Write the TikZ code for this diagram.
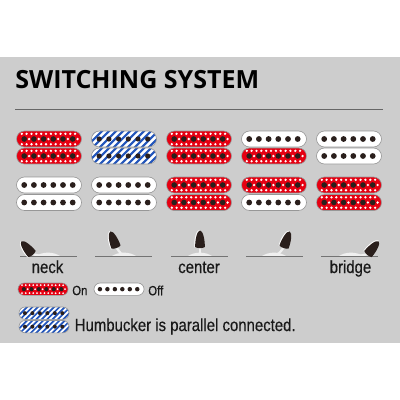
\documentclass[tikz,border=0pt]{standalone}
\usepackage{fontspec}
\setmainfont{Liberation Sans}
\newfontfamily\titlefont{Open Sans}
\newfontfamily\narrowfont[FakeStretch=0.85,FakeBold=0.4]{Liberation Sans}
\definecolor{panelgray}{HTML}{CDCDCD}
\definecolor{rimgray}{HTML}{979797}
\definecolor{pickupred}{HTML}{E60012}
\definecolor{pickupblue}{HTML}{2255BB}
\definecolor{polecolor}{HTML}{2A1F1C}
\newcommand{\pillpath}{(8,0) -- (57,0) arc[start angle=-90,end angle=90,radius=8] -- (8,16) arc[start angle=90,end angle=270,radius=8] -- cycle}
\tikzset{
  pics/whitebar/.style={code={
    \fill[white] \pillpath;
    \draw[rim] \pillpath;
    \foreach \p in {0,...,5} \fill[polecolor] ({7.7+9.7*\p},8) circle (2.9);
  }},
  pics/redbar/.style={code={
    \begin{scope}
      \clip \pillpath;
      \fill[pickupred] (0,0) rectangle (65,16);
      \foreach \p in {0,...,5} {
        \fill[white] ({7.7+9.7*\p-2.4},2.8) circle (1.3);
        \fill[white] ({7.7+9.7*\p+2.4},2.8) circle (1.3);
        \fill[white] ({7.7+9.7*\p+4.85},8) circle (1.3);
        \fill[white] ({7.7+9.7*\p-2.4},13.2) circle (1.3);
        \fill[white] ({7.7+9.7*\p+2.4},13.2) circle (1.3);
      }
    \end{scope}
    \foreach \p in {0,...,5} \fill[polecolor] ({7.7+9.7*\p},8) circle (2.8);
    \draw[rim] \pillpath;
  }},
  pics/bluebar/.style={code={
    \begin{scope}
      \clip \pillpath;
      \fill[white] (0,0) rectangle (65,16);
      \foreach \s in {-3,...,10}
        \fill[pickupblue] ({7*\s},16) -- ({7*\s+3.1},16) -- ({7*\s+3.1+16},0) -- ({7*\s+16},0) -- cycle;
    \end{scope}
    \foreach \p in {0,...,5} \fill[polecolor] ({7.7+9.7*\p},8) circle (2.6);
    \draw[rim] \pillpath;
  }},
  pics/lever/.style={code={
    \fill[white] (-5.4,0.8) .. controls (-6.6,-6) and (-4,-17) .. (-0.5,-17.2) -- (0,-14) -- (-4.5,0) -- cycle;
    \fill[polecolor] (-4.8,0) .. controls (-5,-7) and (-3,-16.5) .. (0,-16.5) .. controls (3,-16.5) and (5,-7) .. (4.8,0) .. controls (3,1.5) and (-3,1.5) .. (-4.8,0) -- cycle;
  }},
  rim/.style={draw=rimgray, line width=0.45pt},
  baseline rule/.style={draw=black!55, line width=0.5pt},
  mound/.style={fill=white!70!panelgray},
  label/.style={font=\narrowfont\fontsize{12.5}{14}\selectfont, text=black!90, inner sep=0pt, anchor=base},
  legend/.style={font=\narrowfont\fontsize{9.5}{12}\selectfont, text=black!90, inner sep=0pt, anchor=west}
}
\begin{document}
\begin{tikzpicture}[x=0.25mm,y=-0.25mm]
  \useasboundingbox (0,0) rectangle (400,400);
  \fill[panelgray] (0,57) rectangle (400,343);
  \node[anchor=west, inner sep=0pt, font=\titlefont\bfseries\fontsize{17.8}{20}\selectfont] (heading) at (15,80) {SWITCHING SYSTEM};
  \draw[line width=0.5pt, black!60] (15,109) -- (383,109);
  % pickup grid, one line per position: column, upper two, lower two
  \foreach \c/\a/\b/\d/\e in {16.5/redbar/redbar/whitebar/whitebar,
                              91.5/bluebar/bluebar/whitebar/whitebar,
                              166.5/redbar/redbar/redbar/redbar,
                              241.5/whitebar/redbar/redbar/whitebar,
                              316.5/whitebar/whitebar/redbar/redbar} {
    \pic at (\c,131) {\a};
    \pic at (\c,148) {\b};
    \pic at (\c,177) {\d};
    \pic at (\c,194.5) {\e};
  }
  % switch positions
  \foreach \l/\m/\px/\py/\sx/\sy/\r in {20/48/32/254/40/256/40,
                                        95/124/116/247/121/254/20,
                                        171/200/200/247/200/254/0,
                                        246/274/284/247/279/254/-20,
                                        321/351/368/254/360/256/-40} {
    \fill[mound] ({\m-12},256) .. controls ({\m-5},251.5) and ({\m+5},251.5) .. ({\m+12},256) -- cycle;
    \draw[white!70!panelgray, line width=1.6pt] (\px,\py) .. controls (\sx,\sy) .. ({\m},255);
    \draw[baseline rule] (\l,256) -- ({\l+57},256);
    \pic[rotate=\r] at (\px,\py) {lever};
  }
  \node[label] (neck) at (47.5,273) {neck};
  \node[label] (center) at (199,273) {center};
  \node[label] (bridge) at (350.5,273) {bridge};
  % legend
  \pic[scale=0.77] at (18,283) {redbar};
  \node[legend] (on) at (72,290.5) {On};
  \pic[scale=0.77] at (94,283) {whitebar};
  \node[legend] (off) at (148,290.5) {Off};
  \pic[scale=0.77] at (19,307) {bluebar};
  \pic[scale=0.77] at (19,320.5) {bluebar};
  \node[legend, font=\narrowfont\fontsize{12.5}{14}\selectfont] (parallel) at (74.5,326.5) {Humbucker is parallel connected.};
\end{tikzpicture}
\end{document}
